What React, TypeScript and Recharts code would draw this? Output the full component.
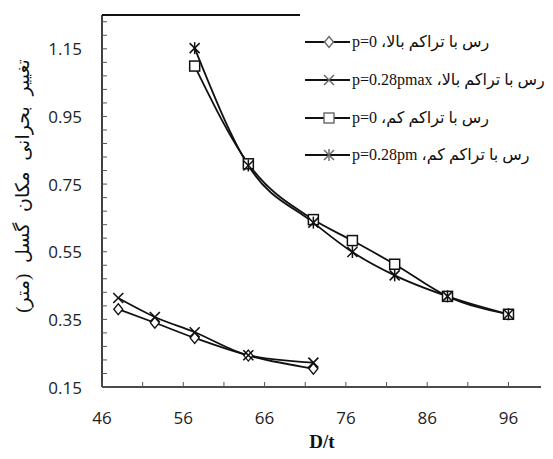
import React from "react";
import { LineChart, Line, XAxis, YAxis, ReferenceLine } from "recharts";

// ---- data ----
const D_T_HIGH = [48, 52.5, 57.4, 64, 72];
const HIGH_P0 = [0.38, 0.34, 0.295, 0.243, 0.204];
const HIGH_P028 = [0.413, 0.357, 0.312, 0.244, 0.222];

const D_T_LOW = [57.4, 64, 72, 76.8, 82, 88.5, 96];
const LOW_P0 = [1.099, 0.81, 0.645, 0.583, 0.513, 0.418, 0.365];
const LOW_P028 = [1.152, 0.805, 0.636, 0.549, 0.48, 0.418, 0.365];

const SERIES_NAMES = [
  "رس با تراکم بالا، p=0",
  "رس با تراکم بالا، p=0.28pmax",
  "رس با تراکم کم، p=0",
  "رس با تراکم کم، p=0.28pm",
];

const X_TICKS = [46, 51, 56, 61, 66, 71, 76, 81, 86, 91, 96];
const X_LABELS = [46, 56, 66, 76, 86, 96];
const Y_TICKS = [
  0.15, 0.19, 0.23, 0.27, 0.31, 0.35, 0.39, 0.43, 0.47, 0.51, 0.55, 0.59, 0.63,
  0.67, 0.71, 0.75, 0.79, 0.83, 0.87, 0.91, 0.95, 0.99, 1.03, 1.07, 1.11, 1.15,
  1.19, 1.23,
];
const Y_LABELS = ["0.15", "0.35", "0.55", "0.75", "0.95", "1.15"];
const X_DOMAIN = [46, 100];
const Y_DOMAIN = [0.15, 1.25];

const X_TITLE = "D/t";
const Y_TITLE = "تغییر بحرانی مکان گسل (متر)";

const toPts = (xs: number[], ys: number[]) => xs.map((x, i) => ({ x, y: ys[i] }));
const dHighP0 = toPts(D_T_HIGH, HIGH_P0);
const dHighP028 = toPts(D_T_HIGH, HIGH_P028);
const dLowP0 = toPts(D_T_LOW, LOW_P0);
const dLowP028 = toPts(D_T_LOW, LOW_P028);

const INK = "#111";
const TICK_FONT = "'Open Sans', 'DejaVu Sans', sans-serif";
const FA_FONT = "'Liberation Serif', 'DejaVu Sans', serif";

// ---- markers ----
type MP = { cx: number; cy: number; stroke?: string; sw?: number };
const Diamond = ({ cx, cy, stroke = INK, sw = 1.3 }: MP) => (
  <polygon
    points={`${cx},${cy - 5.5} ${cx + 4.5},${cy} ${cx},${cy + 5.5} ${cx - 4.5},${cy}`}
    fill="#fff"
    stroke={stroke}
    strokeWidth={sw}
  />
);
const Cross = ({ cx, cy, stroke = INK, sw = 1.6 }: MP) => (
  <g stroke={stroke} strokeWidth={sw}>
    <line x1={cx - 5} y1={cy - 5} x2={cx + 5} y2={cy + 5} />
    <line x1={cx - 5} y1={cy + 5} x2={cx + 5} y2={cy - 5} />
  </g>
);
const Square = ({ cx, cy, stroke = INK, sw = 1.5 }: MP) => (
  <rect x={cx - 5} y={cy - 5} width={10} height={10} fill="#fff" stroke={stroke} strokeWidth={sw} />
);
const Star = ({ cx, cy, stroke = INK, sw = 1.5 }: MP) => (
  <g stroke={stroke} strokeWidth={sw}>
    <line x1={cx - 5} y1={cy - 5} x2={cx + 5} y2={cy + 5} />
    <line x1={cx - 5} y1={cy + 5} x2={cx + 5} y2={cy - 5} />
    <line x1={cx} y1={cy - 6} x2={cx} y2={cy + 6} />
  </g>
);

const MARKERS = [Diamond, Cross, Square, Star];

const makeDot = (M: (p: MP) => React.ReactElement, tag: string) => (props: any) => {
  const { cx, cy, index } = props;
  if (cx == null || cy == null) return <g key={`${tag}-${index}`} />;
  return (
    <g key={`${tag}-${index}`}>
      <M cx={cx} cy={cy} />
    </g>
  );
};

// ---- ticks: inward marks, labels outside ----
const YTick = (props: any) => {
  const { x, y, payload } = props;
  const label = Number(payload.value).toFixed(2);
  const major = Y_LABELS.includes(label);
  return (
    <g>
      <line x1={x} x2={x + 5} y1={y} y2={y} stroke="#555" strokeWidth={1} />
      {major && (
        <text
          x={x - 20}
          y={y}
          textAnchor="end"
          dominantBaseline="central"
          fontFamily={TICK_FONT}
          fontSize={17}
          fill="#222"
        >
          {label}
        </text>
      )}
    </g>
  );
};

const XTick = (props: any) => {
  const { x, y, payload } = props;
  const v = Number(payload.value);
  const major = X_LABELS.includes(v);
  return (
    <g>
      <line x1={x} x2={x} y1={y} y2={y - 5} stroke="#555" strokeWidth={1} />
      {major && (
        <text
          x={x}
          y={y + 30}
          textAnchor="middle"
          dominantBaseline="central"
          fontFamily={TICK_FONT}
          fontSize={17}
          fill="#222"
        >
          {v}
        </text>
      )}
    </g>
  );
};

const LEGEND_ROWS_Y = [42, 80, 118, 155];

export default function App() {
  return (
    <div style={{ position: "absolute", left: 0, top: 0, width: 553, height: 459, background: "#fff" }}>
      <LineChart width={553} height={459} margin={{ top: 15, right: 12, bottom: 0, left: 0 }}>
        <XAxis
          dataKey="x"
          type="number"
          domain={X_DOMAIN}
          ticks={X_TICKS}
          interval={0}
          height={72}
          tickSize={0}
          tickMargin={0}
          tickLine={false}
          tick={<XTick />}
          axisLine={{ stroke: INK, strokeWidth: 1.6 }}
          allowDataOverflow
        />
        <YAxis
          type="number"
          domain={Y_DOMAIN}
          ticks={Y_TICKS}
          interval={0}
          width={102}
          tickSize={0}
          tickMargin={0}
          tickLine={false}
          tick={<YTick />}
          axisLine={{ stroke: INK, strokeWidth: 1.6 }}
          allowDataOverflow
        />
        <YAxis
          yAxisId="right"
          orientation="right"
          type="number"
          domain={Y_DOMAIN}
          width={0}
          tick={false}
          tickLine={false}
          axisLine={{ stroke: INK, strokeWidth: 1.6 }}
        />
        <ReferenceLine y={Y_DOMAIN[1]} stroke={INK} strokeWidth={2} ifOverflow="visible" />
        <Line
          data={dHighP0}
          dataKey="y"
          name={SERIES_NAMES[0]}
          type="monotone"
          stroke={INK}
          strokeWidth={1.8}
          dot={makeDot(Diamond, "a")}
          activeDot={false}
          isAnimationActive={false}
        />
        <Line
          data={dHighP028}
          dataKey="y"
          name={SERIES_NAMES[1]}
          type="monotone"
          stroke={INK}
          strokeWidth={1.8}
          dot={makeDot(Cross, "b")}
          activeDot={false}
          isAnimationActive={false}
        />
        <Line
          data={dLowP0}
          dataKey="y"
          name={SERIES_NAMES[2]}
          type="monotone"
          stroke={INK}
          strokeWidth={1.8}
          dot={makeDot(Square, "c")}
          activeDot={false}
          isAnimationActive={false}
        />
        <Line
          data={dLowP028}
          dataKey="y"
          name={SERIES_NAMES[3]}
          type="monotone"
          stroke={INK}
          strokeWidth={1.8}
          dot={makeDot(Star, "d")}
          activeDot={false}
          isAnimationActive={false}
        />
      </LineChart>

      {/* axis titles */}
      <svg
        width={553}
        height={459}
        style={{ position: "absolute", left: 0, top: 0, pointerEvents: "none" }}
      >
        <text
          x={322}
          y={441}
          textAnchor="middle"
          dominantBaseline="central"
          fontFamily="'Liberation Serif', serif"
          fontWeight="bold"
          fontSize={19}
          fill="#111"
        >
          {X_TITLE}
        </text>
        <text
          transform="translate(22,186) rotate(-90)"
          textAnchor="middle"
          dominantBaseline="central"
          direction="rtl"
          fontFamily={FA_FONT}
          fontSize={19}
          wordSpacing={6}
          fill="#111"
        >
          {Y_TITLE}
        </text>
        {/* legend */}
        <rect x={300} y={0} width={253} height={180} fill="#fff" />
        {LEGEND_ROWS_Y.map((ly, i) => {
          const M = MARKERS[i];
          return (
            <g key={`lg-${i}`}>
              <line x1={305} x2={350} y1={ly} y2={ly} stroke={INK} strokeWidth={2} />
              <M cx={329} cy={ly} stroke="#666" sw={1.4} />
            </g>
          );
        })}
      </svg>
      {LEGEND_ROWS_Y.map((ly, i) => (
        <div
          key={`lt-${i}`}
          dir="rtl"
          style={{
            position: "absolute",
            left: 352,
            top: ly - 11,
            whiteSpace: "nowrap",
            fontFamily: FA_FONT,
            fontSize: 16,
            lineHeight: "22px",
            color: "#111",
          }}
        >
          {SERIES_NAMES[i]}
        </div>
      ))}
    </div>
  );
}
